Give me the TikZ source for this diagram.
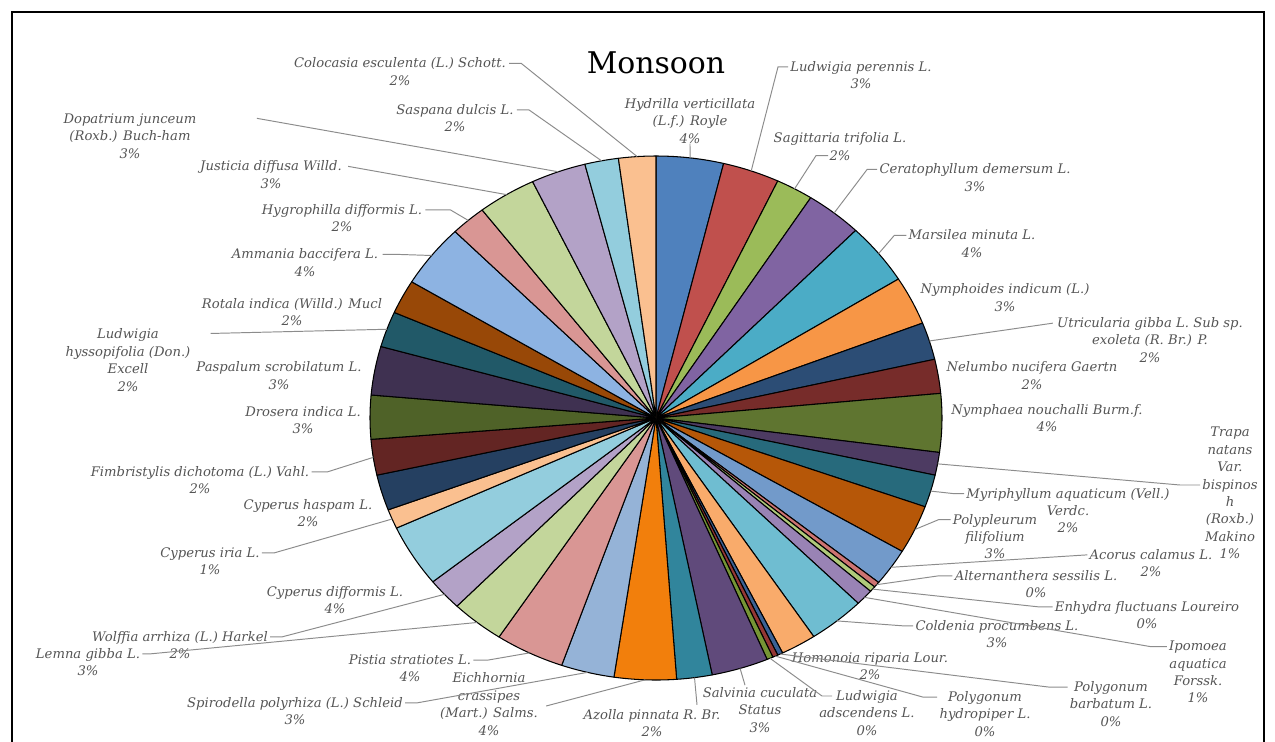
\documentclass[tikz,border=0pt]{standalone}
\usepackage{fontspec}
\setmainfont{DejaVu Serif}
\usetikzlibrary{calc}
\definecolor{s1}{HTML}{4F81BD}\definecolor{s2}{HTML}{C0504D}\definecolor{s3}{HTML}{9BBB59}
\definecolor{s4}{HTML}{8064A2}\definecolor{s5}{HTML}{4BACC6}\definecolor{s6}{HTML}{F79646}
\definecolor{s7}{HTML}{2C4D75}\definecolor{s8}{HTML}{772C2A}\definecolor{s9}{HTML}{5F7530}
\definecolor{s10}{HTML}{4D3B62}\definecolor{s11}{HTML}{276A7C}\definecolor{s12}{HTML}{B65708}
\definecolor{s13}{HTML}{729ACA}\definecolor{s14}{HTML}{CD7371}\definecolor{s15}{HTML}{AFC97A}
\definecolor{s16}{HTML}{9983B5}\definecolor{s17}{HTML}{6FBDD1}\definecolor{s18}{HTML}{F9AB6B}
\definecolor{s19}{HTML}{3B6195}\definecolor{s20}{HTML}{953734}\definecolor{s21}{HTML}{769535}
\definecolor{s22}{HTML}{604A7B}\definecolor{s23}{HTML}{31859C}\definecolor{s24}{HTML}{F27F0C}
\definecolor{s25}{HTML}{95B3D7}\definecolor{s26}{HTML}{D99694}\definecolor{s27}{HTML}{C3D69B}
\definecolor{s28}{HTML}{B3A2C7}\definecolor{s29}{HTML}{93CDDD}\definecolor{s30}{HTML}{FAC090}
\definecolor{s31}{HTML}{254061}\definecolor{s32}{HTML}{632523}\definecolor{s33}{HTML}{4F6228}
\definecolor{s34}{HTML}{3F3151}\definecolor{s35}{HTML}{215968}\definecolor{s36}{HTML}{984807}
\definecolor{s37}{HTML}{8DB3E2}\definecolor{s38}{HTML}{D99694}\definecolor{s39}{HTML}{C3D69B}
\definecolor{s40}{HTML}{B3A2C7}\definecolor{s41}{HTML}{93CDDD}\definecolor{s42}{HTML}{FAC090}
\definecolor{labelgray}{HTML}{555555}
\definecolor{leadgray}{HTML}{8C8C8C}
\begin{document}
\begin{tikzpicture}[x=0.02cm,y=-0.02cm,
  lbl/.style={font=\itshape\fontsize{7.5}{9.9}\selectfont, text=labelgray, align=center, inner sep=0pt},
  lead/.style={draw=leadgray, line width=0.55pt},
  slice/.style={draw=black, line width=0.6pt, line join=round}]
\useasboundingbox (0,0) rectangle (1275,741);
\fill[white] (0,0) rectangle (1275,741);
\begin{scope}
\clip (0,0) rectangle (1275,741);
\draw[line width=1.6pt] (12,12) rectangle (1264,790);
\end{scope}
% pie
\foreach \s/\e/\c [count=\i] in {0/3.8/s1, 3.8/7.0/s2, 7.0/9.1/s3, 9.1/12.3/s4, 12.3/16.1/s5, 16.1/19.1/s6,
  19.1/21.4/s7, 21.4/23.5/s8, 23.5/27.1/s9, 27.1/28.5/s10, 28.5/30.5/s11, 30.5/33.5/s12,
  33.5/35.8/s13, 35.8/36.15/s14, 36.15/36.5/s15, 36.5/37.5/s16, 37.5/40.7/s17, 40.7/42.7/s18,
  42.7/43.0/s19, 43.0/43.3/s20, 43.3/43.65/s21, 43.65/46.85/s22, 46.85/48.85/s23, 48.85/52.35/s24,
  52.35/55.35/s25, 55.35/59.25/s26, 59.25/62.25/s27, 62.25/64.25/s28, 64.25/68.1/s29, 68.1/69.3/s30,
  69.3/71.5/s31, 71.5/73.7/s32, 73.7/76.4/s33, 76.4/79.4/s34, 79.4/81.6/s35, 81.6/83.7/s36,
  83.7/87.6/s37, 87.6/89.6/s38, 89.6/92.9/s39, 92.9/96.0/s40, 96.0/97.9/s41, 97.9/100/s42}{
  \pgfmathsetmacro{\aa}{90-3.6*\s}
  \pgfmathsetmacro{\ab}{90-3.6*\e}
  \pgfmathsetmacro{\am}{90-1.8*(\s+\e)}
  \filldraw[slice, fill=\c] (656,418) -- plot[domain=\ab:\aa, samples=25] ({656+286*cos(\x)},{418-262*sin(\x)}) -- cycle;
  \coordinate (e\i) at ({656+286*cos(\am)},{418-262*sin(\am)});
}
% title
\node[font=\fontsize{17}{20}\selectfont, text=black, inner sep=0pt] (title) at (656,63) {Monsoon};
% labels
\node[lbl] (l1) at (690,121) {Hydrilla verticillata\\(L.f.) Royle\\4\%};
\node[lbl] (l2) at (861,75) {Ludwigia perennis L.\\3\%};
\node[lbl] (l3) at (840,146.5) {Sagittaria trifolia L.\\2\%};
\node[lbl] (l4) at (975,177.5) {Ceratophyllum demersum L.\\3\%};
\node[lbl] (l5) at (972,243.5) {Marsilea minuta L.\\4\%};
\node[lbl] (l6) at (1005,297.5) {Nymphoides indicum (L.)\\3\%};
\node[lbl] (l7) at (1150,340) {Utricularia gibba L. Sub sp.\\exoleta (R. Br.) P.\\2\%};
\node[lbl] (l8) at (1032,375.5) {Nelumbo nucifera Gaertn\\2\%};
\node[lbl] (l9) at (1047,418) {Nymphaea nouchalli Burm.f.\\4\%};
\node[lbl] (l10) at (1230,493) {Trapa\\natans\\Var.\\bispinos\\h\\(Roxb.)\\Makino\\1\%};
\node[lbl] (l11) at (1068,510.5) {Myriphyllum aquaticum (Vell.)\\Verdc.\\2\%};
\node[lbl] (l12) at (995,536.5) {Polypleurum\\filifolium\\3\%};
\node[lbl] (l13) at (1151,563) {Acorus calamus L.\\2\%};
\node[lbl] (l14) at (1036,584) {Alternanthera sessilis L.\\0\%};
\node[lbl] (l15) at (1147,615) {Enhydra fluctuans Loureiro\\0\%};
\node[lbl] (l16) at (1198,672) {Ipomoea\\aquatica\\Forssk.\\1\%};
\node[lbl] (l17) at (997,634) {Coldenia procumbens L.\\3\%};
\node[lbl] (l18) at (870,666) {Homonoia riparia Lour.\\2\%};
\node[lbl] (l19) at (1111,704) {Polygonum\\barbatum L.\\0\%};
\node[lbl] (l20) at (985,714) {Polygonum\\hydropiper L.\\0\%};
\node[lbl] (l21) at (867,713) {Ludwigia\\adscendens L.\\0\%};
\node[lbl] (l22) at (760,710) {Salvinia cuculata\\Status\\3\%};
\node[lbl] (l23) at (652,723) {Azolla pinnata R. Br.\\2\%};
\node[lbl] (l24) at (489,704) {Eichhornia\\crassipes\\(Mart.) Salms.\\4\%};
\node[lbl] (l25) at (295,711) {Spirodella polyrhiza (L.) Schleid\\3\%};
\node[lbl] (l26) at (410,668) {Pistia stratiotes L.\\4\%};
\node[lbl] (l27) at (88,662) {Lemna gibba L.\\3\%};
\node[lbl] (l28) at (180,645) {Wolffia arrhiza (L.) Harkel\\2\%};
\node[lbl] (l29) at (335,600) {Cyperus difformis L.\\4\%};
\node[lbl] (l30) at (210,561) {Cyperus iria L.\\1\%};
\node[lbl] (l31) at (308,513) {Cyperus haspam L.\\2\%};
\node[lbl] (l32) at (200,480) {Fimbristylis dichotoma (L.) Vahl.\\2\%};
\node[lbl] (l33) at (303,420) {Drosera indica L.\\3\%};
\node[lbl] (l34) at (279,375.5) {Paspalum scrobilatum L.\\3\%};
\node[lbl] (l35) at (128,360) {Ludwigia\\hyssopifolia (Don.)\\Excell\\2\%};
\node[lbl] (l36) at (292,312) {Rotala indica (Willd.) Mucl\\2\%};
\node[lbl] (l37) at (305,262.5) {Ammania baccifera L.\\4\%};
\node[lbl] (l38) at (342,218) {Hygrophilla difformis L.\\2\%};
\node[lbl] (l39) at (271,174.5) {Justicia diffusa Willd.\\3\%};
\node[lbl] (l40) at (130,136) {Dopatrium junceum\\(Roxb.) Buch-ham\\3\%};
\node[lbl] (l41) at (455,118) {Saspana dulcis L.\\2\%};
\node[lbl] (l42) at (400,71.5) {Colocasia esculenta (L.) Schott.\\2\%};
% leader lines
\draw[lead] (l1.south) -- (e1);
\draw[lead] ($(l2.north west)+(-2,6)$) -- ++(-10,0) -- (e2);
\draw[lead] ($(l3.south)+(-12,-5)$) -- ++(-12,0) -- (e3);
\draw[lead] ($(l4.north west)+(-2,6)$) -- ++(-10,0) -- (e4);
\draw[lead] ($(l5.north west)+(-2,6)$) -- ++(-12,0) -- (e5);
\draw[lead] ($(l7.north west)+(-4,6)$) -- (e7);
\draw[lead] ($(l10.west)+(-2,-8)$) -- ++(-20,0) -- (e10);
\draw[lead] ($(l11.north west)+(-2,6)$) -- ++(-10,0) -- (e11);
\draw[lead] ($(l12.north west)+(-2,6)$) -- ++(-12,0) -- (e12);
\draw[lead] ($(l13.north west)+(-2,6)$) -- (e13);
\draw[lead] ($(l14.north west)+(-2,6)$) -- ++(-14,0) -- (e14);
\draw[lead] ($(l15.north west)+(-2,6)$) -- ++(-14,0) -- (e15);
\draw[lead] ($(l16.north west)+(-2,6)$) -- ++(-16,0) -- (e16);
\draw[lead] ($(l17.north west)+(-2,6)$) -- ++(-10,0) -- (e17);
\draw[lead] ($(l19.north west)+(-2,6)$) -- ++(-18,0) -- (e19);
\draw[lead] ($(l20.north west)+(-2,6)$) -- ++(-14,0) -- (e20);
\draw[lead] ($(l21)+(-35,-17)$) -- ++(-10,0) -- (e21);
\draw[lead] (e22) -- ($(l22.north)+(-15,-2)$);
\draw[lead] (e23) -- ($(l23.north)+(45,-4)$);
\draw[lead] ($(l24.east)+(8,2)$) -- (e24);
\draw[lead] ($(l25.north east)+(2,6)$) -- ++(12,0) -- (e25);
\draw[lead] ($(l26.north east)+(2,6)$) -- ++(15,0) -- (e26);
\draw[lead] ($(l27.north east)+(2,6)$) -- ++(8,0) -- (e27);
\draw[lead] ($(l28.north east)+(2,6)$) -- ++(12,0) -- (e28);
\draw[lead] ($(l30.north east)+(2,6)$) -- ++(12,0) -- (e30);
\draw[lead] ($(l32.north east)+(2,6)$) -- ++(16,0) -- (e32);
\draw[lead] ($(l35.north east)+(20,5)$) -- (e35);
\draw[lead] ($(l37.north east)+(4,6)$) -- ++(14,0) -- (e37);
\draw[lead] ($(l38.north east)+(3,6)$) -- ++(25,0) -- (e38);
\draw[lead] ($(l39.north east)+(6,6)$) -- (e39);
\draw[lead] ($(l40.north east)+(60,5)$) -- (e40);
\draw[lead] ($(l41.north east)+(3,6)$) -- ++(12,0) -- (e41);
\draw[lead] ($(l42.north east)+(3,6)$) -- ++(12,0) -- (e42);
\end{tikzpicture}
\end{document}
